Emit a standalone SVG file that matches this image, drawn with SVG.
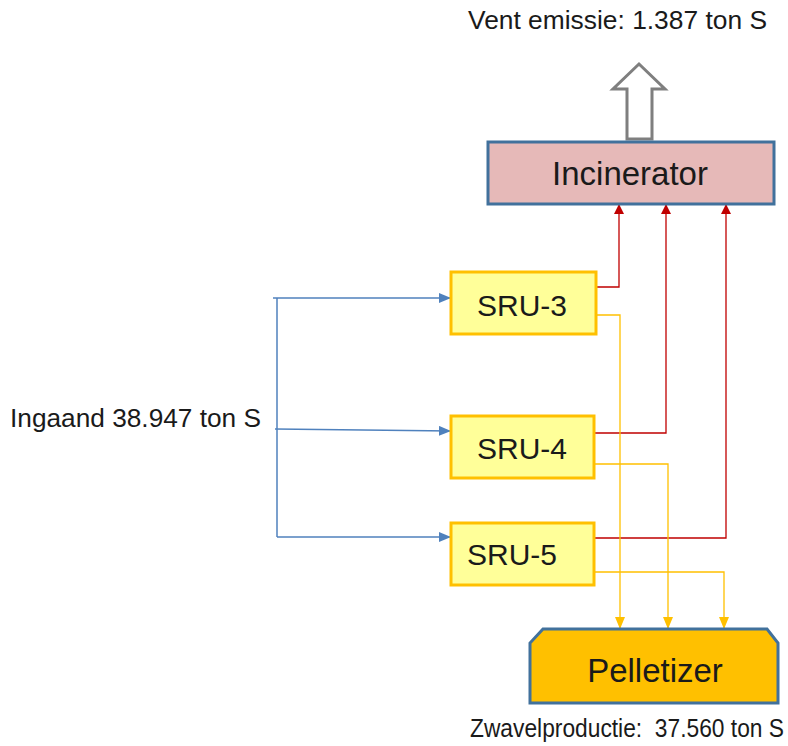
<svg xmlns="http://www.w3.org/2000/svg" width="788" height="746" viewBox="0 0 788 746">
<style>
text{font-family:"Liberation Sans","Open Sans",Arial,sans-serif;fill:#1a1a1a}
.lbl{font-size:25px}
.node{font-size:32px;text-anchor:middle}
.sru{fill:#FFFF99;stroke:#FFC000;stroke-width:3}
.blue{stroke:#4F81BD;stroke-width:1.5;fill:none}
.red{stroke:#C00000;stroke-width:1.3;fill:none}
.yel{stroke:#FFC000;stroke-width:1.3;fill:none}
</style>
<defs>
<marker id="ab" markerWidth="12" markerHeight="10" refX="12" refY="5" orient="auto" markerUnits="userSpaceOnUse"><path d="M0,0L12,5L0,10z" fill="#4F81BD"/></marker>
<marker id="ar" markerWidth="10" markerHeight="10" refX="10" refY="5" orient="auto" markerUnits="userSpaceOnUse"><path d="M0,0L10,5L0,10z" fill="#C00000"/></marker>
<marker id="ay" markerWidth="12" markerHeight="10" refX="12" refY="5" orient="auto" markerUnits="userSpaceOnUse"><path d="M0,0L12,5L0,10z" fill="#FFC000"/></marker>
</defs>
<g id="connectors">
<path class="blue" d="M273,298H451" marker-end="url(#ab)"/>
<path class="blue" d="M277,298V537"/>
<path class="blue" d="M275,429L451,431" marker-end="url(#ab)"/>
<path class="blue" d="M277,537H451" marker-end="url(#ab)"/>
<path class="red" d="M596,287H619V204" marker-end="url(#ar)"/>
<path class="red" d="M594,433H666V204" marker-end="url(#ar)"/>
<path class="red" d="M594,538H726V204" marker-end="url(#ar)"/>
<path class="yel" d="M597,315H620V629" marker-end="url(#ay)"/>
<path class="yel" d="M594,464H668V629" marker-end="url(#ay)"/>
<path class="yel" d="M594,572H724V629" marker-end="url(#ay)"/>
</g>
<g id="vent">
<path d="M639,64L665,89H652V139H627V89H613Z" fill="#fff" stroke="#7F7F7F" stroke-width="3" stroke-linejoin="miter"/>
<text class="lbl" x="468" y="29" textLength="299" lengthAdjust="spacingAndGlyphs">Vent emissie: 1.387 ton S</text>
</g>
<g id="incinerator">
<rect x="488" y="142" width="286" height="62" fill="#E6B9B8" stroke="#41719C" stroke-width="3"/>
<text class="node" x="630" y="185" style="font-size:33px">Incinerator</text>
</g>
<g id="sru3">
<rect class="sru" x="451" y="272" width="145" height="62"/>
<text class="node" x="522" y="316" style="font-size:30px">SRU-3</text>
</g>
<g id="sru4">
<rect class="sru" x="451" y="416" width="143" height="62"/>
<text class="node" x="522" y="459" style="font-size:30px">SRU-4</text>
</g>
<g id="sru5">
<rect class="sru" x="451" y="523" width="143" height="62"/>
<text class="node" x="512" y="565" style="font-size:30px">SRU-5</text>
</g>
<g id="pelletizer">
<path d="M543,629H767L778,643V703H530V643Z" fill="#FFC000" stroke="#41719C" stroke-width="3"/>
<text class="node" x="655" y="682" style="font-size:33px">Pelletizer</text>
</g>
<g id="ingaand">
<text class="lbl" x="10" y="427" textLength="251" lengthAdjust="spacingAndGlyphs">Ingaand 38.947 ton S</text>
</g>
<g id="zwavel">
<text class="lbl" x="470" y="737" textLength="314" lengthAdjust="spacingAndGlyphs" xml:space="preserve">Zwavelproductie:  37.560 ton S</text>
</g>
</svg>
